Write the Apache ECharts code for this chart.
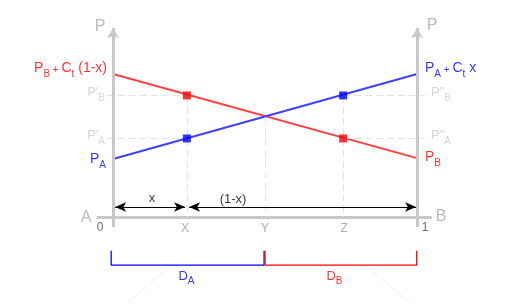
<!DOCTYPE html>
<html><head><meta charset="utf-8">
<script src="https://cdn.jsdelivr.net/npm/echarts@6/dist/echarts.min.js"></script>
<style>html,body{margin:0;padding:0;background:#fff}#c{width:514px;height:305px}</style>
</head><body><div id="c"></div>
<script>
// ---- data ----
const xTicks = [0, 0.243, 0.5, 0.757, 1];
const xTickLabels = ['0', 'X', 'Y', 'Z', '1'];
const redLine = [[0, 7.65], [1, 3.15]];          // P_B + Ct(1-x) -> P_B
const blueLine = [[0, 3.1], [1, 7.65]];          // P_A -> P_A + Ct x
const redPoints = [[0.243, 6.5], [0.757, 4.2]];
const bluePoints = [[0.243, 4.2], [0.757, 6.5]];
const crossing = [0.5, 5.35];
const levels = [6.5, 4.2];                       // P'B/P"B and P'A/P"A
const bracketA = [[-0.006, -1.8], [-0.006, -2.57], [0.497, -2.57], [0.497, -1.8]];
const bracketB = [[0.5, -1.8], [0.5, -2.57], [0.999, -2.57], [0.999, -1.8]];
const fadedA = [[0.194, -2.57], [0.05, -4.55]];
const fadedB = [[0.83, -2.57], [0.975, -4.55]];

const FONT = 'Liberation Sans, Arial, sans-serif';
const RED = '#ff0000', BLUE = '#0000ff';
const rich = {
  m: {fontSize: 14, lineHeight: 14, padding: [0, 0, 4, 0], verticalAlign: 'bottom'},
  p: {fontSize: 10, lineHeight: 14, padding: [0, 0, 4, 0], verticalAlign: 'bottom'},
  s: {fontSize: 10, lineHeight: 10, verticalAlign: 'bottom'},
  dm: {fontSize: 13, lineHeight: 13, padding: [0, 0, 4, 0], verticalAlign: 'bottom'},
  ds: {fontSize: 10, lineHeight: 10, verticalAlign: 'bottom'}
};

function lab(coord, text, color, align, dx, dy, extra) {
  return {value: coord, label: Object.assign({
    show: true, position: 'inside', formatter: text, color: color, align: align,
    verticalAlign: 'middle', offset: [dx, dy], fontFamily: FONT, rich: rich
  }, extra || {})};
}

const yTop = 10.1, yAxisBottom = -0.535;
const labels = [
  lab([0, redLine[0][1]], '{m|P}{s|B}{p| + }{m|C}{s|t}{m| (1-x)}', RED, 'right', -6, -2),
  lab([0, blueLine[0][1]], '{m|P}{s|A}', BLUE, 'right', -7, 4),
  lab([1, blueLine[1][1]], '{m|P}{s|A}{p| + }{m|C}{s|t}{m| x}', BLUE, 'left', 8, -2),
  lab([1, redLine[1][1]], '{m|P}{s|B}', RED, 'left', 8, 3),
  lab([0, levels[0]], "{dm|P'}{ds|B}", '#cccccc', 'right', -8, 1),
  lab([0, levels[1]], "{dm|P'}{ds|A}", '#cccccc', 'right', -8, 1),
  lab([1, levels[0]], '{dm|P"}{ds|B}', '#cccccc', 'left', 14, 1),
  lab([1, levels[1]], '{dm|P"}{ds|A}', '#cccccc', 'left', 14, 1),
  lab([0, yTop], 'P', '#aaaaaa', 'center', -13, -1.5, {fontSize: 16}),
  lab([1, yTop], 'P', '#aaaaaa', 'center', 15, -3, {fontSize: 16}),
  lab([0, 0], 'A', '#aaaaaa', 'center', -27, 0.5, {fontSize: 16}),
  lab([1, 0], 'B', '#aaaaaa', 'center', 24, 0, {fontSize: 16}),
  lab([0.128, 0.535], 'x', '#000000', 'center', 0, -9, {fontSize: 13}),
  lab([0.395, 0.535], '(1-x)', '#000000', 'center', 0, -8, {fontSize: 13}),
  lab([0.25, bracketA[1][1]], '{dm|D}{ds|A}', BLUE, 'center', -2.5, 15),
  lab([0.75, bracketB[1][1]], '{dm|D}{ds|B}', RED, 'center', -6.5, 15)
];
const tickOffsets = [[-13, 11], [-2, 12], [0, 12], [1, 12], [8, 11]];
const tickColors = ['#444444', '#999999', '#999999', '#999999', '#444444'];
xTicks.forEach((t, i) => {
  labels.push(lab([t, 0], xTickLabels[i], tickColors[i], 'center', tickOffsets[i][0], tickOffsets[i][1], {fontSize: 12}));
});

const dashStyle = {color: '#e2e2e2', width: 1, type: [7, 4]};
const guides = [
  [{coord: [-0.02, levels[0]]}, {coord: [redPoints[0][0], levels[0]]}],
  [{coord: [-0.02, levels[1]]}, {coord: [bluePoints[0][0], levels[1]]}],
  [{coord: [bluePoints[1][0], levels[0]]}, {coord: [1.026, levels[0]]}],
  [{coord: [redPoints[1][0], levels[1]]}, {coord: [1.026, levels[1]]}],
  [{coord: [xTicks[1], levels[0]]}, {coord: [xTicks[1], 0]}],
  [{coord: [xTicks[2], crossing[1]]}, {coord: [xTicks[2], 0]}],
  [{coord: [xTicks[3], levels[0]]}, {coord: [xTicks[3], 0]}]
];

const option = {
  animation: false,
  grid: {left: 97.8, right: 83.3, top: 28.13, bottom: 1.98},
  xAxis: {type: 'value', min: -0.05, max: 1.045,
    axisLine: {show: true, onZero: true, lineStyle: {color: '#c8c8c8', width: 3}},
    axisTick: {show: false}, axisLabel: {show: false}, splitLine: {show: false}},
  yAxis: {type: 'value', min: -4.6, max: yTop, show: false, splitLine: {show: false}},
  series: [
    {type: 'line', data: [], silent: true, z: 1,
      markLine: {silent: true, symbol: 'none', label: {show: false}, lineStyle: dashStyle, data: guides}},
    {type: 'line', data: [], silent: true, z: 2,
      markLine: {silent: true, symbol: ['none', 'arrow'], symbolSize: [9, 10], label: {show: false},
        lineStyle: {color: '#c8c8c8', width: 3, type: 'solid'},
        data: [[{coord: [0, yAxisBottom]}, {coord: [0, yTop]}], [{coord: [1, yAxisBottom]}, {coord: [1, yTop]}]]}},
    {type: 'line', data: [], silent: true, z: 3,
      markLine: {silent: true, symbol: ['arrow', 'arrow'], symbolSize: [7, 11], label: {show: false},
        lineStyle: {color: '#000000', width: 1.2, type: 'solid'},
        data: [[{coord: [0.007, 0.535]}, {coord: [0.237, 0.535]}], [{coord: [0.25, 0.535]}, {coord: [0.997, 0.535]}]]}},
    {type: 'line', data: redLine, symbol: 'none', lineStyle: {color: '#ff4040', width: 2}, z: 4, silent: true},
    {type: 'line', data: blueLine, symbol: 'none', lineStyle: {color: '#4040ff', width: 2}, z: 4, silent: true},
    {type: 'scatter', data: redPoints, symbol: 'rect', symbolSize: 8, itemStyle: {color: RED}, z: 5, silent: true},
    {type: 'scatter', data: bluePoints, symbol: 'rect', symbolSize: 8, itemStyle: {color: BLUE}, z: 5, silent: true},
    {type: 'line', data: bracketA, symbol: 'none', lineStyle: {color: BLUE, width: 1.3}, z: 4, silent: true},
    {type: 'line', data: bracketB, symbol: 'none', lineStyle: {color: RED, width: 1.3}, z: 4, silent: true},
    {type: 'line', data: fadedA, symbol: 'none', lineStyle: {color: '#eeeeee', width: 1}, z: 0, silent: true},
    {type: 'line', data: fadedB, symbol: 'none', lineStyle: {color: '#eeeeee', width: 1}, z: 0, silent: true},
    {type: 'scatter', data: labels, symbolSize: 1, itemStyle: {color: 'rgba(0,0,0,0)'}, z: 6, silent: true}
  ]
};
echarts.init(document.getElementById('c'), null, {renderer: 'canvas'}).setOption(option);
</script></body></html>
